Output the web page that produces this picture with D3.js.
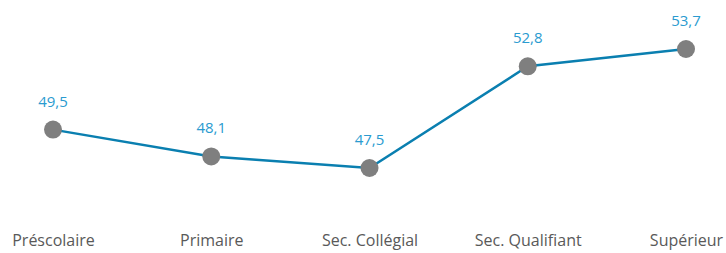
<!DOCTYPE html>
<html>
<head>
<meta charset="utf-8">
<script src="https://cdn.jsdelivr.net/npm/d3@7"></script>
<style>
  html, body { margin: 0; padding: 0; background: #fff; }
  svg { display: block; }
</style>
</head>
<body>
<div id="chart"></div>
<script>
// Categories and values
var categories = ["Préscolaire", "Primaire", "Sec. Collégial", "Sec. Qualifiant", "Supérieur"];
var values = [49.5, 48.1, 47.5, 52.8, 53.7];
var valueLabels = ["49,5", "48,1", "47,5", "52,8", "53,7"];

(function () {
  var W = 726, H = 253;
  var LINE = "#0a7fb0", LABEL = "#2a9bd0", MARK = "#7f7f7f", AXIS_TXT = "#595959";
  var FONT = "'Open Sans', 'Noto Sans', sans-serif";

  var svg = d3.select("#chart").append("svg")
    .attr("width", W).attr("height", H);

  var x = d3.scalePoint().domain(categories).range([53, 686]);
  var y = d3.scaleLinear().domain([47.5, 53.7]).range([168, 49]);

  var data = categories.map(function (c, i) {
    return { cat: c, v: values[i], lbl: valueLabels[i] };
  });

  // line
  svg.append("path")
    .datum(data)
    .attr("fill", "none")
    .attr("stroke", LINE)
    .attr("stroke-width", 2.5)
    .attr("d", d3.line()
      .x(function (d) { return x(d.cat); })
      .y(function (d) { return y(d.v); }));

  // markers
  svg.append("g").selectAll("circle")
    .data(data)
    .join("circle")
      .attr("cx", function (d) { return x(d.cat); })
      .attr("cy", function (d) { return y(d.v); })
      .attr("r", 9)
      .attr("fill", MARK);

  // value labels
  svg.append("g").selectAll("text")
    .data(data)
    .join("text")
      .attr("x", function (d) { return x(d.cat); })
      .attr("y", function (d) { return y(d.v) - 23; })
      .attr("text-anchor", "middle")
      .attr("font-family", FONT)
      .attr("font-size", "15px")
      .attr("fill", LABEL)
      .text(function (d) { return d.lbl; });

  // category axis (no line, text only)
  var axis = svg.append("g")
    .attr("transform", "translate(0,235)")
    .call(d3.axisBottom(x).tickSize(0).tickPadding(0));
  axis.select(".domain").remove();
  axis.selectAll("text")
    .attr("font-family", FONT)
    .attr("font-size", "16px")
    .attr("fill", AXIS_TXT)
    .attr("dy", "0.71em");
})();
</script>
</body>
</html>
